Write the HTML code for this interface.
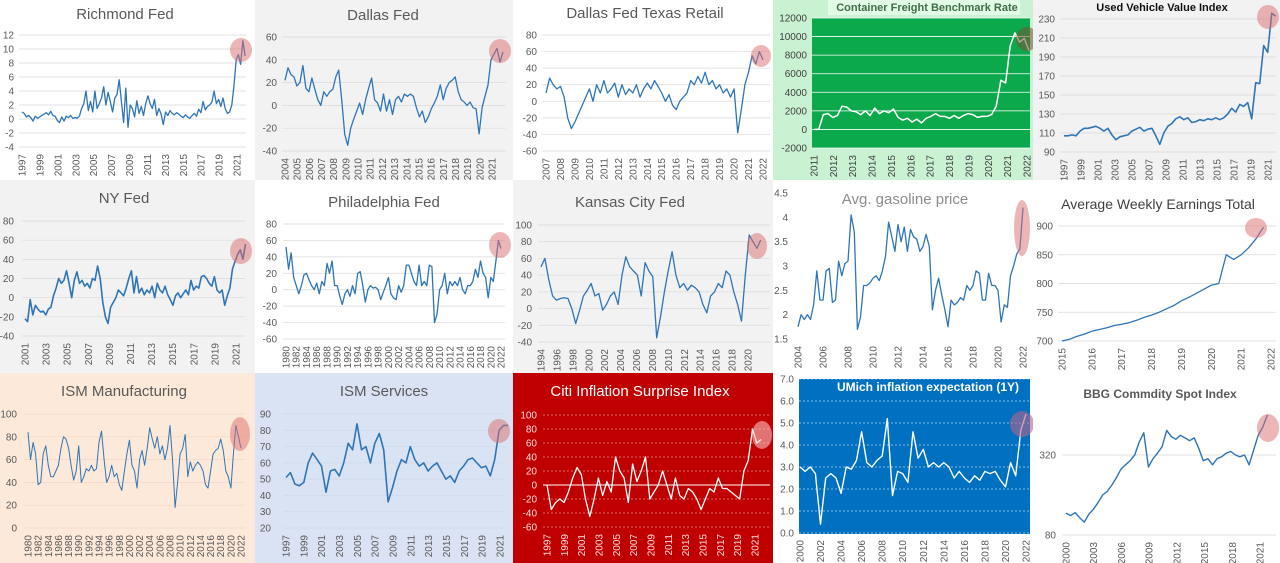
<!DOCTYPE html>
<html><head><meta charset="utf-8">
<style>
html,body{margin:0;padding:0;background:#fff;}
svg{display:block;font-family:"Liberation Sans",sans-serif;}
</style></head>
<body>
<svg id="chart" width="1280" height="563" viewBox="0 0 1280 563" xmlns="http://www.w3.org/2000/svg"></svg>
<script>
// ---- data arrays (evenly spaced between start/end years) ----
const richmondYears=[1997,2021.9];
const richmondVals=[1,0.8,0.3,0.5,0.2,-0.3,0.4,0.1,0.3,0.5,0.7,0.9,0.6,1.1,0.5,0.4,-0.2,-0.5,0.3,-0.3,0.4,0.2,0.5,0.1,0.2,0.1,0.4,1.5,2.2,4,1.2,2.5,1.0,4,1.5,2.2,3,4.6,2,3.8,2.5,1,3,3.5,5.6,2.5,-0.5,4.4,-1.2,2,1.5,0.3,2.6,0.8,1.8,0.5,2.2,3.3,2.2,1.5,2.8,0.5,1.5,0.7,-0.8,1,0.5,1.2,0.8,0.6,0.9,0.7,0.4,0.2,0.6,0.3,0.1,0.5,0.8,0.4,1.4,0.9,2.5,1.3,1.8,2,2.4,4,2.2,2.8,1.8,3,1.5,0.8,1,2,4.8,8.5,9.2,7.8,11.2,9];
const dallasYears=[2004,2021.9];
const dallasVals=[22,33,27,25,17,20,35,15,12,24,14,5,0,12,8,12,14,25,31,5,-25,-35,-20,-12,-5,2,-8,5,15,24,5,2,-5,10,-5,5,-8,5,8,3,10,8,10,8,-2,-10,-5,-15,-10,-3,2,8,18,5,15,20,22,25,12,5,3,0,3,-2,-3,-25,-2,8,18,40,45,50,38,47];
const retailYears=[2007,2022];
const retailVals=[10,28,20,15,18,5,-20,-33,-25,-15,-5,5,15,0,20,10,25,10,15,22,5,20,8,15,10,20,5,15,22,15,25,18,10,0,8,-5,-10,0,5,10,25,20,30,22,35,20,25,15,20,10,15,5,15,-38,-10,20,35,55,45,60,50];
const freightYears=[2011,2022.1];
const freightVals=[0,0,1600,1700,1300,1500,2500,2400,2000,1900,1600,2000,1500,2300,1700,2000,1800,2200,1300,1000,1200,800,1100,700,1200,1400,1700,1400,1400,1200,1500,1200,1500,1700,1600,1300,1400,1400,1600,2500,5300,5000,9000,10400,9400,9800,8500];
const usedYears=[1997,2021.9];
const usedVals=[107,107,108,107,112,115,115,116,117,115,112,115,108,103,106,107,108,112,114,116,112,114,115,107,98,110,117,120,125,127,124,126,121,122,124,123,125,124,126,124,126,130,136,132,140,138,142,125,163,162,202,195,236,233];
const nyYears=[2001,2021.9];
const nyVals=[-22,-25,-2,-18,-8,-12,-15,-14,-18,-12,-10,2,10,20,15,18,28,15,0,18,27,15,18,12,15,10,20,18,33,20,-5,-20,-27,-10,-5,0,8,5,2,10,20,28,5,22,5,10,3,8,5,12,0,15,8,5,12,3,-2,-8,2,5,0,4,8,3,18,8,12,10,22,23,20,15,12,22,8,5,8,-8,2,10,30,38,45,50,40,56];
const philYears=[1980,2022];
const philVals=[52,25,45,15,5,-5,5,18,20,12,5,0,8,-5,10,5,32,20,35,5,5,-8,-18,-5,0,-8,5,-5,20,22,5,-15,0,5,2,3,0,-12,-3,5,15,-5,-10,-12,5,-3,5,30,30,20,10,5,30,5,10,5,30,28,-40,-30,0,5,20,-5,10,5,10,5,15,0,-5,5,5,10,25,15,35,20,15,-10,15,10,35,60,50];
const kansasYears=[1994,2021.6];
const kansasVals=[50,60,35,15,10,12,13,12,0,-18,-2,15,22,30,15,18,-2,5,15,20,5,40,62,50,45,40,15,55,45,38,-35,-10,20,45,68,40,25,30,22,28,25,20,5,-5,15,20,30,25,45,40,20,5,-15,40,88,80,72,82];
const gasYears=[2004,2022];
const gasVals=[1.75,2.0,1.9,2.0,1.9,2.2,2.9,2.3,2.3,2.9,2.95,2.25,2.3,3.1,2.8,3.05,3.1,4.05,3.7,1.7,1.95,2.6,2.6,2.65,2.75,2.8,2.7,2.9,3.2,3.9,3.6,3.3,3.85,3.5,3.8,3.3,3.75,3.6,3.55,3.3,3.4,3.65,3.4,2.1,2.5,2.75,2.4,2.1,1.75,2.3,2.2,2.25,2.35,2.3,2.6,2.5,2.6,2.9,2.85,2.3,2.3,2.85,2.6,2.6,2.5,1.85,2.2,2.15,2.8,3.0,3.25,3.35,4.2];
const earnYears=[2015,2021.75];
const earnVals=[700,703,708,712,717,720,723,727,729,732,736,741,745,750,756,762,770,776,783,790,797,800,850,842,850,862,878,898];
const ismmYears=[1980,2022];
const ismmVals=[84,60,75,65,38,40,65,72,55,45,45,50,55,70,80,78,70,55,42,50,72,40,45,52,50,55,50,52,75,85,60,40,45,55,45,48,38,33,50,65,77,55,50,35,60,68,55,70,88,78,70,80,65,72,60,70,90,60,18,40,65,70,82,45,58,50,55,58,55,50,38,35,50,65,68,70,78,68,50,45,35,65,90,80,70];
const ismsYears=[1997,2021.9];
const ismsVals=[51,54,47,46,48,60,66,62,58,42,55,56,52,60,72,68,84,68,70,60,72,78,68,36,45,55,62,60,70,62,58,60,55,58,60,55,50,52,48,55,58,62,63,60,57,58,52,62,80,83,83];
const citiYears=[1997,2021.7];
const citiVals=[0,-35,-25,-20,-25,-10,10,25,15,-20,-45,-20,10,-15,5,-10,40,20,10,-25,30,5,20,40,-20,-10,0,20,0,-20,10,-15,-20,-5,-10,-20,-35,-20,-5,-10,10,-5,-5,-10,-15,-20,20,35,80,60,65];
const umichYears=[2000,2022];
const umichVals=[3.0,2.8,3.0,2.7,0.4,2.5,2.7,2.5,1.8,3.0,2.9,3.3,4.6,3.2,3.0,3.3,3.5,5.2,1.7,2.8,2.7,2.3,4.6,3.4,3.8,3.0,3.2,3.0,3.2,3.0,2.5,2.8,2.5,2.3,2.6,2.4,2.8,2.7,2.8,2.4,2.1,3.2,2.6,4.7,5.4];
const bbgYears=[2000,2021.8];
const bbgVals=[117,112,118,108,100,115,125,140,160,170,190,215,250,270,290,320,400,470,260,300,330,370,490,440,420,450,430,410,430,360,290,300,270,300,310,330,340,320,310,320,270,350,450,520,640];

const NS="http://www.w3.org/2000/svg";
const svg=document.getElementById('chart');
function mk(tag,attrs,parent){const e=document.createElementNS(NS,tag);for(const k in attrs)e.setAttribute(k,attrs[k]);(parent||svg).appendChild(e);return e;}
function range(a,b,s){const r=[];for(let v=a;v<=b+1e-9;v+=s)r.push(+v.toFixed(4));return r;}

const panels=[
 {id:'richmond',box:[0,0,255,180],bg:'#ffffff',title:'Richmond Fed',tx:125,ty:19,yt:range(-4,12,2),yv:[12,-4],yp:[35,147],ylx:14,xl:range(1997,2021,2),xv:[1997,2021],xp:[22,237],gx:[19,246],yrs:richmondYears,vals:richmondVals,circ:[241,50,11,12]},
 {id:'dallas',box:[255,0,258,180],bg:'#f2f2f2',title:'Dallas Fed',tx:383,ty:20,yt:range(-40,60,20),yv:[60,-40],yp:[37,151],ylx:277,xl:range(2004,2021,1),xv:[2004,2021],xp:[285,492],gx:[282,506],yrs:dallasYears,vals:dallasVals,circ:[500,51,11,12]},
 {id:'texas-retail',box:[513,0,260,180],bg:'#ffffff',title:'Dallas Fed Texas Retail',tx:645,ty:18,yt:range(-60,80,20),yv:[80,-60],yp:[35,151],ylx:537,xl:range(2007,2022,1),xv:[2007,2022],xp:[546,763],gx:[542,770],yrs:retailYears,vals:retailVals,circ:[761,56,10,11]},
 {id:'freight',box:[773,0,262,180],bg:'#c9f2d3',plotBg:[812,18,1030,148,'#0ca84c'],title:'Container Freight Benchmark Rate',tx:927,ty:11,tsize:11,tbold:true,tcol:'#3f6f45',tbox:[828,0,192,15,'#e3fae7'],yt:range(-2000,12000,2000),yv:[12000,-2000],yp:[18,148],ylx:807,lcol:'#404040',xl:range(2011,2022,1),xv:[2011,2022],xp:[814,1027],gx:[812,1030],gcol:'#ffffff',gw:0.8,yrs:freightYears,vals:freightVals,line:'#ffffff',lw:1.5,circ:[1027,39,11,12,'rgba(120,80,50,0.55)']},
 {id:'used-vehicle',box:[1033,0,247,180],bg:'#f2f2f2',title:'Used Vehicle Value Index',tx:1162,ty:11,tsize:11,tbold:true,tcol:'#111',yt:range(90,230,20),yv:[230,90],yp:[19,152],ylx:1055,xl:range(1997,2021,2),xv:[1997,2021],xp:[1064,1268],gx:[1060,1276],yrs:usedYears,vals:usedVals,lw:1.6,circ:[1268,17,11,12]},
 {id:'ny-fed',box:[0,180,255,193],bg:'#f2f2f2',title:'NY Fed',tx:124,ty:203,yt:range(-40,80,20),yv:[80,-40],yp:[221,336],ylx:14,xl:range(2001,2021,2),xv:[2001,2021],xp:[25,236],gx:[22,245],yrs:nyYears,vals:nyVals,lw:1.6,circ:[241,251,11,13]},
 {id:'philadelphia',box:[255,180,258,193],bg:'#ffffff',title:'Philadelphia Fed',tx:384,ty:207,yt:range(-60,80,20),yv:[80,-60],yp:[224,339],ylx:277,xl:range(1980,2022,2),xv:[1980,2022],xp:[286,501],gx:[283,505],yrs:philYears,vals:philVals,circ:[500,245,11,13]},
 {id:'kansas-city',box:[513,180,260,193],bg:'#f2f2f2',title:'Kansas City Fed',tx:630,ty:207,yt:range(-40,100,20),yv:[100,-40],yp:[225,342],ylx:532,xl:range(1994,2020,2),xv:[1994,2020],xp:[541,748],gx:[538,770],yrs:kansasYears,vals:kansasVals,circ:[757,246,10,13]},
 {id:'gasoline',box:[773,180,260,193],bg:'#ffffff',title:'Avg. gasoline price',tx:905,ty:204,tcol:'#8c8c8c',yt:range(1.5,4.5,0.5),yv:[4.5,1.5],yp:[193,339],ylx:788,xl:range(2004,2022,2),xv:[2004,2022],xp:[798,1023],nogrid:true,yrs:gasYears,vals:gasVals,circ:[1022,228,8,28]},
 {id:'weekly-earnings',box:[1033,180,247,193],bg:'#ffffff',title:'Average Weekly Earnings Total',tx:1158,ty:209,tsize:14,tcol:'#404040',yt:range(700,900,50),yv:[900,700],yp:[226,341],ylx:1053,xl:range(2015,2022,1),xv:[2015,2022],xp:[1062,1271],gx:[1058,1276],yrs:earnYears,vals:earnVals,circ:[1256,228,11,10]},
 {id:'ism-manufacturing',box:[0,373,255,190],bg:'#fde9d9',title:'ISM Manufacturing',tx:124,ty:396,yt:range(0,100,20),yv:[100,0],yp:[414,528],ylx:17,xl:range(1980,2022,2),xv:[1980,2022],xp:[28,241],gx:[24,245],gcol:'#f3d6c4',yrs:ismmYears,vals:ismmVals,lw:1,circ:[240,434,10,17]},
 {id:'ism-services',box:[255,373,258,190],bg:'#dae3f3',title:'ISM Services',tx:384,ty:396,yt:range(20,90,10),yv:[90,20],yp:[414,528],ylx:271,xl:range(1997,2021,2),xv:[1997,2021],xp:[286,500],gx:[283,506],gcol:'#cdd8ea',yrs:ismsYears,vals:ismsVals,lw:1.6,circ:[499,431,11,12]},
 {id:'citi-surprise',box:[513,373,260,190],bg:'#c00000',title:'Citi Inflation Surprise Index',tx:640,ty:396,tcol:'#ffffff',yt:range(-60,100,20),yv:[100,-60],yp:[415,527],ylx:537,lcol:'#ffe0e0',xl:range(1997,2021,2),xv:[1997,2021],xp:[547,755],gx:[543,770],gcol:'rgba(255,255,255,0.55)',gdash:'2,2',zero:true,yrs:citiYears,vals:citiVals,line:'#ffffff',lw:1.3,circ:[762,435,10,14,'rgba(255,210,210,0.55)']},
 {id:'umich-expectation',box:[773,373,260,190],bg:'#ffffff',plotBg:[799,379,1030,534,'#0070c0'],title:'UMich inflation expectation (1Y)',tx:928,ty:391,tsize:12,tbold:true,tcol:'#ffffff',yt:range(0,7,1),fmt:v=>v.toFixed(1),yv:[7,0],yp:[379,533],ylx:794,xl:range(2000,2022,2),xv:[2000,2022],xp:[800,1026],gx:[799,1030],gcol:'rgba(255,255,255,0.7)',gdash:'2,2',yrs:umichYears,vals:umichVals,line:'#ffffff',lw:1.4,circ:[1022,424,12,13,'rgba(180,100,140,0.6)']},
 {id:'bbg-commodity',box:[1033,373,247,190],bg:'#ffffff',title:'BBG Commdity Spot Index',tx:1160,ty:398,tsize:12,tbold:true,tcol:'#595959',log:true,yt:[80,320],yv:[320,80],yp:[455,535],ylx:1056,xl:range(2000,2021,3),xv:[2000,2021],xp:[1066,1260],gx:[1062,1276],yrs:bbgYears,vals:bbgVals,lw:1.4,circ:[1268,428,11,14]}
];

panels.forEach(p=>{
  const g=mk('g',{});
  
  
  const [bx,by,bw,bh]=p.box;
  mk('rect',{x:bx,y:by,width:bw,height:bh,fill:p.bg},g);
  if(p.plotBg){const [a,b,c,d,col]=p.plotBg;const r=mk('rect',{x:a,y:b,width:c-a,height:d-b,fill:col},g);}
  if(p.tbox){const [a,b,w,h,col]=p.tbox;mk('rect',{x:a,y:b,width:w,height:h,fill:col},g);}
  const tf=v=>p.log?Math.log(v):v;
  const yScale=v=>p.yp[0]+(tf(v)-tf(p.yv[0]))*(p.yp[1]-p.yp[0])/(tf(p.yv[1])-tf(p.yv[0]));
  const xScale=yr=>p.xp[0]+(yr-p.xv[0])*(p.xp[1]-p.xp[0])/(p.xv[1]-p.xv[0]);
  const gx=p.gx||[p.xp[0]-3,p.xp[1]+7];
  const lcol=p.lcol||'#595959';
  p.yt.forEach(v=>{
    const y=yScale(v);
    if(!p.nogrid){
      const ln=mk('line',{x1:gx[0],x2:gx[1],y1:y,y2:y,stroke:p.gcol||'#d9d9d9','stroke-width':p.gw||0.7},g);
      if(p.gdash)ln.setAttribute('stroke-dasharray',p.gdash);
      
      
    }
    const t=mk('text',{x:p.ylx,y:y+3.5,'text-anchor':'end','font-size':10,fill:lcol},g);
    t.textContent=p.fmt?p.fmt(v):String(v);
    
    
  });
  if(p.zero){const y=yScale(0);mk('line',{x1:gx[0],x2:gx[1],y1:y,y2:y,stroke:'#ffffff','stroke-width':1},g);}
  const ly=p.yp[1]+7;
  p.xl.forEach(yr=>{
    const x=xScale(yr)+3.5;
    const t=mk('text',{x:x,y:ly,'text-anchor':'end','font-size':10,fill:lcol,transform:`rotate(-90 ${x} ${ly})`},g);
    t.textContent=String(yr);
    
    
  });
  const n=p.vals.length, [y0,y1]=p.yrs;
  const pts=p.vals.map((v,i)=>[xScale(y0+(y1-y0)*i/(n-1)),yScale(v)]);
  const path=mk('path',{d:pts.map((q,i)=>(i?'L':'M')+q[0].toFixed(1)+' '+q[1].toFixed(1)).join(' '),fill:'none',stroke:p.line||'#2e75b6','stroke-width':p.lw||1.3,'stroke-linejoin':'round'},g);
  
  
  if(p.circ){
    const [cx,cy,rx,ry,col]=p.circ;
    const e=mk('ellipse',{cx:cx,cy:cy,rx:rx,ry:ry,fill:col||'rgba(220,110,110,0.5)'},g);
    
    
  }
  const t=mk('text',{x:p.tx,y:p.ty,'text-anchor':'middle','font-size':p.tsize||15,'font-weight':p.tbold?'bold':'normal',fill:p.tcol||'#595959'},g);
  t.textContent=p.title;
  
  
});
</script>
</body></html>
